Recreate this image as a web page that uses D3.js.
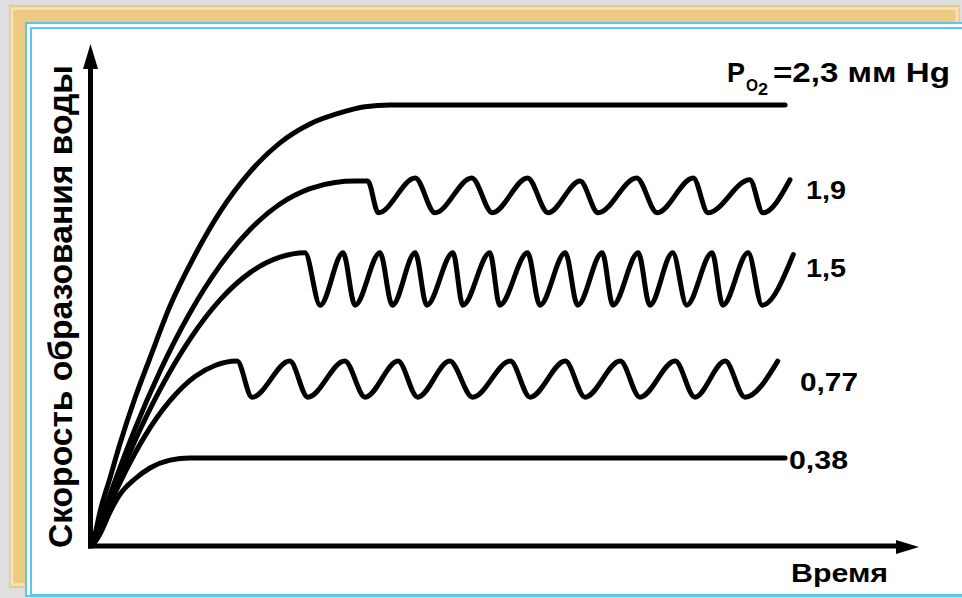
<!DOCTYPE html>
<html>
<head>
<meta charset="utf-8">
<script src="https://cdn.jsdelivr.net/npm/d3@7"></script>
<style>
  html, body { margin: 0; padding: 0; background: #dfdfdf; }
  svg { display: block; }
  text { font-family: "Liberation Sans", Arial, sans-serif; font-weight: bold; fill: #000; }
</style>
</head>
<body>
<svg id="chart" width="962" height="598"></svg>
<script>
// Water formation rate over time at different oxygen partial pressures.
// Each series: [time, rate] in arbitrary units (rate 100 = plateau at 2,3 mm Hg).
const rate23 = [[0,0],[0.85,7.5],[2.07,15.2],[3.29,23],[5.12,33.4],[6.95,42.5],[9.39,54.3],[12.44,65.9],[15.49,75.7],
  [19.15,84.8],[22.8,91.4],[26.46,95.7],[30.12,98.2],[33.17,99.6],[36.22,100],[40,100],[84.4,100]];

const rate19 = [[0,0],[0.85,4.8],[2.68,14.5],[5.12,26.4],[8.17,39.5],[11.83,52.8],[15.49,63.5],[19.15,71.7],[22.8,77.5],
  [26.46,81],[29.51,82.4],[31.95,82.7],[33.5,82.7],
  [34.8,75.5],[39.3,83.4],[41.7,75.5],[46.2,83.4],[48.7,75.5],[53,83.4],[55.5,75.5],[59.4,82.7],[61.6,75.5],[66.3,83.4],
  [68.8,75.5],[73.2,83.4],[75,75.5],[80.1,83],[81.7,75.5],[85,83]];

const rate15 = [[0,0],[0.85,4.3],[2.68,13.1],[5.12,23.7],[8.17,35.3],[11.83,46.8],[15.49,55.7],[19.15,61.9],[22.8,65.4],[25.85,66.4],
  [27.7,54.5],[30.5,66.4],[31.95,54.5],[35,66.4],[36.5,54.5],[39.3,66.4],[40.7,54.5],[43.9,66.4],[45.1,54.5],[48.4,66.4],
  [49.6,54.5],[53,66.4],[54.5,54.5],[57.6,66.4],[59.1,54.5],[62.1,66.4],[63.4,54.5],[66.5,66.4],[67.9,54.5],[70.7,66.4],
  [72.4,54.5],[75.5,66.4],[76.8,54.5],[79.9,66.4],[81.6,54.5],[85.4,66]];

const rate077 = [[0,0],[0.85,4],[2.07,9.3],[3.9,16.5],[6.34,24.8],[9.39,32.8],[12.44,38.3],[14.88,40.8],[17.56,41.8],
  [19.4,33.6],[24,41.8],[26.2,33.6],[30.7,41.8],[33.2,33.6],[37.2,41.8],[39.6,33.6],[43.5,41.8],[46.3,33.6],[50.9,41.8],
  [53.3,33.6],[57.6,41.8],[60,33.6],[64.3,41.8],[66.7,33.6],[71,41.8],[73.4,33.6],[77.1,41.8],[79.5,33.6],[83.5,41.8]];

const rate038 = [[0,0],[0.85,2.5],[2.07,7.5],[3.29,11.5],[5.1,15],[6.95,17.5],[9.4,19.3],[11.8,19.8],[84.4,19.8]];

const seriesLabels = ["1,9", "1,5", "0,77", "0,38"];
const titleMain = "P";
const titleSub = "O";
const titleSubIndex = "2";
const titleRest = "=2,3 мм Hg";
const yAxisLabel = "Скорость образования воды";
const xAxisLabel = "Время";

const svg = d3.select("#chart");

// Decorative frame
svg.append("rect").attr("x", 0).attr("y", 0).attr("width", 962).attr("height", 598).attr("fill", "#dfdfdf");
svg.append("rect").attr("x", 9).attr("y", 5).attr("width", 951).attr("height", 583).attr("fill", "#ecca82");
svg.append("rect").attr("x", 12).attr("y", 8.5).attr("width", 945).attr("height", 576)
  .attr("fill", "none").attr("stroke", "#f4e4bd").attr("stroke-width", 2.5);
svg.append("rect").attr("x", 26).attr("y", 23).attr("width", 960).attr("height", 573)
  .attr("fill", "#ffffff").attr("stroke", "#5cc5f2").attr("stroke-width", 2);
svg.append("rect").attr("x", 31).attr("y", 28).attr("width", 960).attr("height", 567)
  .attr("fill", "#ffffff").attr("stroke", "#5cc5f2").attr("stroke-width", 2);

// Scales
const x = d3.scaleLinear().domain([0, 100]).range([93, 913]);
const y = d3.scaleLinear().domain([0, 100]).range([545, 105]);

// Axes with arrowheads
const axisG = svg.append("g");
const ox = 90.5, oy = 546;
axisG.append("line").attr("x1", ox).attr("y1", oy + 2.5).attr("x2", ox).attr("y2", 66)
  .attr("stroke", "#000").attr("stroke-width", 5);
axisG.append("path").attr("d", `M${ox},44 L${ox + 7.5},69 L${ox - 7.5},69 Z`).attr("fill", "#000");
axisG.append("line").attr("x1", ox - 2.5).attr("y1", oy).attr("x2", 899).attr("y2", oy)
  .attr("stroke", "#000").attr("stroke-width", 5);
axisG.append("path").attr("d", `M919,${oy + 1} L896,${oy - 6} L896,${oy + 8} Z`).attr("fill", "#000");

// Curves
const line = d3.line()
  .x(d => x(d[0]))
  .y(d => y(d[1]))
  .curve(d3.curveMonotoneX);

const series = [rate23, rate19, rate15, rate077, rate038];
svg.append("g").selectAll("path").data(series).join("path")
  .attr("d", line)
  .attr("fill", "none")
  .attr("stroke", "#000")
  .attr("stroke-width", 5)
  .attr("stroke-linecap", "round")
  .attr("stroke-linejoin", "round");

// Series labels at the right end of each curve
const labelPos = [[806, 199, 40], [806, 277, 40], [800, 391, 58], [789, 469, 59]];
svg.append("g").selectAll("text").data(seriesLabels).join("text")
  .attr("x", (d, i) => labelPos[i][0])
  .attr("y", (d, i) => labelPos[i][1])
  .attr("font-size", 25)
  .attr("textLength", (d, i) => labelPos[i][2])
  .attr("lengthAdjust", "spacingAndGlyphs")
  .text(d => d);

// Title label for the top curve
const tg = svg.append("g");
tg.append("text").attr("x", 727).attr("y", 82).attr("font-size", 28)
  .attr("textLength", 18).attr("lengthAdjust", "spacingAndGlyphs").text(titleMain);
tg.append("text").attr("x", 746).attr("y", 91).attr("font-size", 17)
  .attr("textLength", 12).attr("lengthAdjust", "spacingAndGlyphs").text(titleSub);
tg.append("text").attr("x", 758).attr("y", 95).attr("font-size", 16)
  .attr("textLength", 10).attr("lengthAdjust", "spacingAndGlyphs").text(titleSubIndex);
tg.append("text").attr("x", 773).attr("y", 82).attr("font-size", 28)
  .attr("textLength", 177).attr("lengthAdjust", "spacingAndGlyphs").text(titleRest);

// Axis titles
svg.append("text")
  .attr("transform", "translate(72,548) rotate(-90)")
  .attr("font-size", 34)
  .attr("textLength", 483)
  .attr("lengthAdjust", "spacingAndGlyphs")
  .text(yAxisLabel);

svg.append("text")
  .attr("x", 791).attr("y", 582)
  .attr("font-size", 25)
  .attr("textLength", 97)
  .attr("lengthAdjust", "spacingAndGlyphs")
  .text(xAxisLabel);
</script>
</body>
</html>
